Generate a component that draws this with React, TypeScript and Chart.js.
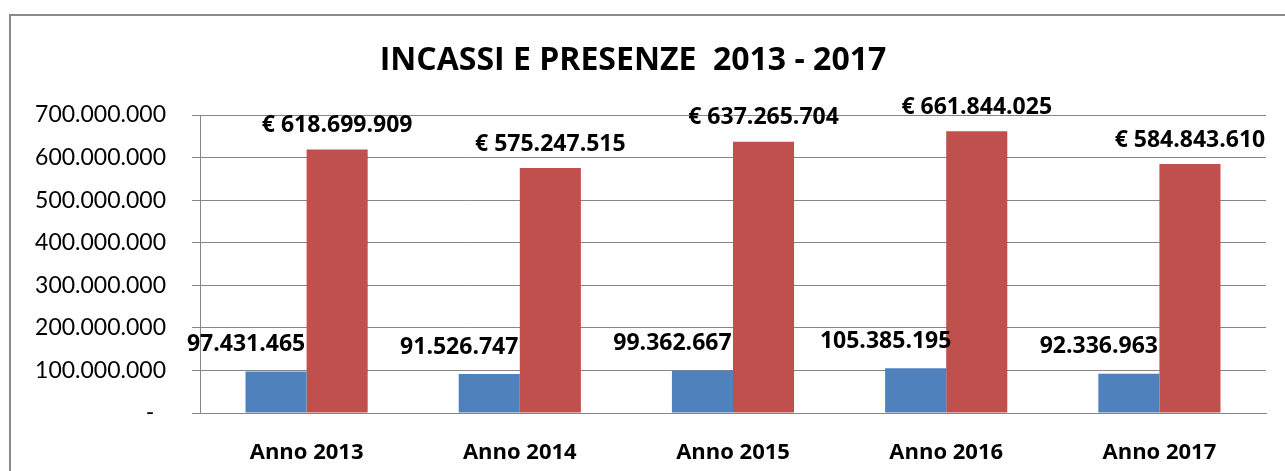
import React, { useEffect, useRef } from "react";
import { Chart, registerables } from "chart.js";

Chart.register(...registerables);

const categories = ["Anno 2013", "Anno 2014", "Anno 2015", "Anno 2016", "Anno 2017"];
const presenze = [97431465, 91526747, 99362667, 105385195, 92336963];
const incassi = [618699909, 575247515, 637265704, 661844025, 584843610];
const yTicks = [0, 100000000, 200000000, 300000000, 400000000, 500000000, 600000000, 700000000];
const titleText = "INCASSI E PRESENZE  2013 - 2017";

const FONT = "Lato, 'Open Sans', sans-serif";
const BOLD = "'Open Sans', Lato, sans-serif";

function fmt(v: number): string {
  return Math.round(v).toString().replace(/\B(?=(\d{3})+(?!\d))/g, ".");
}

const labelPlugin = {
  id: "valueLabels",
  afterDatasetsDraw(chart: any) {
    const ctx = chart.ctx;
    ctx.save();
    ctx.font = `bold 23px ${BOLD}`;
    ctx.fillStyle = "#000000";
    ctx.textAlign = "center";
    ctx.textBaseline = "middle";
    chart.data.datasets.forEach((ds: any, di: number) => {
      const meta = chart.getDatasetMeta(di);
      meta.data.forEach((bar: any, i: number) => {
        const v = ds.data[i];
        if (di === 0) {
          ctx.fillText(fmt(v), bar.x - 30, bar.y - 27);
        } else {
          ctx.fillText("€ " + fmt(v), bar.x, bar.y - 24);
        }
      });
    });
    ctx.restore();
  },
};

export default function App() {
  const ref = useRef<HTMLCanvasElement | null>(null);
  useEffect(() => {
    if (!ref.current) return;
    const chart = new Chart(ref.current, {
      type: "bar",
      data: {
        labels: categories,
        datasets: [
          {
            label: "Presenze",
            data: presenze,
            backgroundColor: "#4F81BD",
            categoryPercentage: 0.573,
            barPercentage: 1,
          },
          {
            label: "Incassi",
            data: incassi,
            backgroundColor: "#C0504D",
            categoryPercentage: 0.573,
            barPercentage: 1,
          },
        ],
      },
      options: {
        animation: false,
        responsive: false,
        maintainAspectRatio: false,
        layout: { padding: { left: 0, right: 19, top: 0, bottom: 0 } },
        plugins: {
          legend: { display: false },
          tooltip: { enabled: false },
          title: {
            display: true,
            text: titleText,
            color: "#000000",
            font: { family: BOLD, size: 32, weight: "bold" },
            padding: { top: 42, bottom: 34.6 },
          },
        },
        scales: {
          x: {
            grid: { display: false },
            border: { display: true, color: "#868686", width: 1 },
            ticks: {
              color: "#000000",
              font: { family: BOLD, size: 22, weight: "bold" },
              padding: 19,
              maxRotation: 0,
            },
            afterFit: (s: any) => {
              s.height = 58;
            },
          },
          y: {
            min: 0,
            max: 700000000,
            afterBuildTicks: (s: any) => {
              s.ticks = yTicks.map((v) => ({ value: v }));
            },
            grid: {
              color: "#868686",
              lineWidth: 1,
              drawTicks: true,
              tickLength: 8,
            },
            border: { display: true, color: "#868686", width: 1 },
            ticks: {
              color: "#000000",
              font: { family: FONT, size: 23 },
              padding: 26,
              callback: (v: any) => (Number(v) === 0 ? "-  " : fmt(Number(v))),
            },
            afterFit: (s: any) => {
              s.width = 200;
            },
          },
        },
      },
      plugins: [labelPlugin],
    });
    return () => chart.destroy();
  }, []);
  return (
    <div style={{ position: "fixed", left: 0, top: 0, width: 1285, height: 471, background: "#ffffff" }}>
      <div
        style={{
          position: "absolute",
          left: 9,
          top: 14,
          width: 1290,
          height: 470,
          borderLeft: "2px solid #8a8a8a",
          borderTop: "2px solid #8a8a8a",
          pointerEvents: "none",
        }}
      />
      <canvas ref={ref} width={1285} height={471} style={{ position: "absolute", left: 0, top: 0 }} />
    </div>
  );
}
